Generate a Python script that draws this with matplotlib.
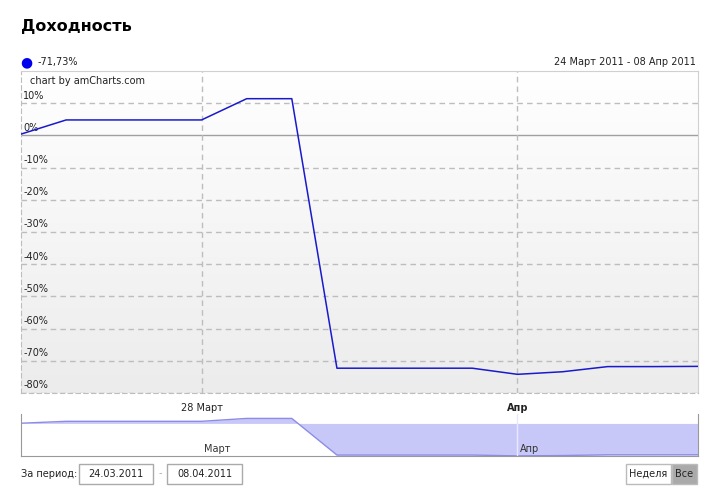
import matplotlib.pyplot as plt
import numpy as np
from matplotlib.patches import Rectangle

plt.rcParams["font.family"] = "DejaVu Sans"

# data: day offsets from 24 March 2011, yield in %
days = [0, 1, 4, 5, 6, 7, 10, 11, 12, 13, 14, 15]
values = [0.4, 4.8, 4.8, 11.4, 11.4, -72.3, -72.3, -74.2, -73.4, -71.8, -71.8, -71.73]
y_ticks = [10, 0, -10, -20, -30, -40, -50, -60, -70, -80]
x_ticks = [4, 11]
x_labels = ["28 Март", "Апр"]
scroll_labels = ["Март", "Апр"]

W, H = 720, 499
fig = plt.figure(figsize=(W / 100, H / 100), dpi=100)

def box(x0, y0, x1, y1):
    return [x0 / W, 1 - y1 / H, (x1 - x0) / W, (y1 - y0) / H]

def px(x, y):
    return x / W, 1 - y / H

FS = 7
GRID = "#bdbdbd"
LINE = "#1a1acc"

# main chart
ax = fig.add_axes(box(21, 71, 698, 393))
ax.set_xlim(0, 15)
ax.set_ylim(-80, 20)
grad = np.linspace(1, 0, 256).reshape(-1, 1)
ax.imshow(grad, extent=[0, 15, -80, 20], aspect="auto", cmap=plt.cm.colors.LinearSegmentedColormap.from_list("g", ["#ececec", "#ffffff"]), zorder=0)
for t in y_ticks:
    if t == 0:
        ax.axhline(t, color="#a0a0a0", lw=1, zorder=1)
    else:
        ax.axhline(t, color=GRID, lw=1, ls=(0, (4, 3)), zorder=1)
    ax.text(0.05, t + 0.8, f"{t}%", fontsize=FS, va="bottom", ha="left", color="#222222")
for t in x_ticks:
    ax.axvline(t, color=GRID, lw=1, ls=(0, (4, 3)), zorder=1)
ax.plot(days, values, color=LINE, lw=1.1, zorder=3)
ax.set_xticks([])
ax.set_yticks([])
for s in ["top", "right"]:
    ax.spines[s].set_color("#d0d0d0")
for s in ["left", "bottom"]:
    ax.spines[s].set_color(GRID)
    ax.spines[s].set_linestyle((0, (4, 3)))
ax.text(0.013, 0.985, "chart by amCharts.com", transform=ax.transAxes, fontsize=FS, va="top", color="#222222")
for t, lab in zip(x_ticks, x_labels):
    ax.text(t, -83, lab, ha="center", va="top", fontsize=FS,
            fontweight="bold" if lab == "Апр" else "normal", color="#222222")

# scrollbar
sx = fig.add_axes(box(21, 414, 698, 456))
sx.set_xlim(0, 15)
sx.set_ylim(-74.5, 21.5)
sx.fill_between(days, values, 0, color="#c8c8f8", lw=0)
sx.plot(days, values, color="#8c8ce6", lw=1)
sx.axvline(11, color="#e8e8ff", lw=1)
sx.set_xticks([])
sx.set_yticks([])
sx.spines["top"].set_visible(False)
for s in ["left", "right", "bottom"]:
    sx.spines[s].set_color("#999999")
for t, lab in zip(x_ticks, scroll_labels):
    sx.text(t + 0.05, -70, lab, ha="left", va="bottom", fontsize=FS, color="#333333")

# header
fig.text(*px(21, 26), "Доходность", fontsize=11.5, fontweight="bold", va="center", ha="left")
fig.text(*px(26, 62), "●", fontsize=10, color="#0000ee", va="center", ha="center")
fig.text(*px(38, 62), "-71,73%", fontsize=FS, va="center", ha="left", color="#222222")
fig.text(*px(696, 62), "24 Март 2011 - 08 Апр 2011", fontsize=FS, va="center", ha="right", color="#222222")

# period controls
fig.text(*px(21, 474), "За период:", fontsize=FS, va="center", ha="left", color="#222222")
for x0, x1, lab in [(79, 153, "24.03.2011"), (167, 242, "08.04.2011")]:
    fig.patches.append(Rectangle(px(x0, 484), (x1 - x0) / W, 20 / H, transform=fig.transFigure,
                                 facecolor="white", edgecolor="#aaaaaa", lw=1))
    fig.text(*px((x0 + x1) / 2, 474), lab, fontsize=FS, va="center", ha="center", color="#222222")
fig.text(*px(160, 473), "-", fontsize=FS, va="center", ha="center", color="#aaaaaa")
for x0, x1, lab, fc in [(626, 671, "Неделя", "white"), (672, 697, "Все", "#aaaaaa")]:
    fig.patches.append(Rectangle(px(x0, 484), (x1 - x0) / W, 20 / H, transform=fig.transFigure,
                                 facecolor=fc, edgecolor="#bbbbbb", lw=1))
    fig.text(*px((x0 + x1) / 2, 474), lab, fontsize=FS, va="center", ha="center", color="#222222")

fig.savefig("out.png", dpi=100)
